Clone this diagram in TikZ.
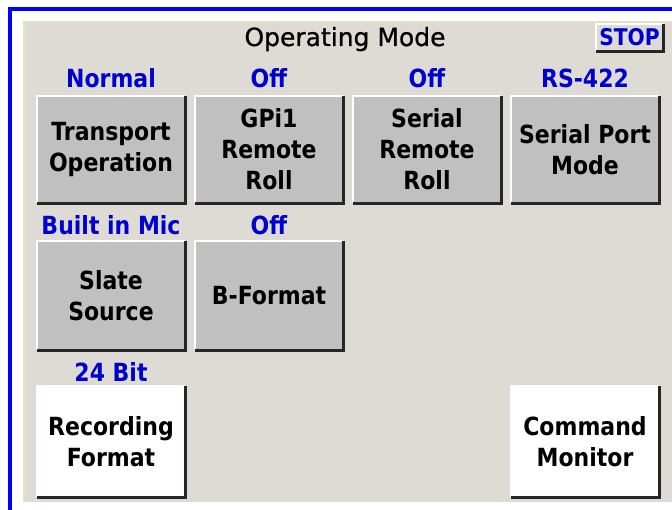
\documentclass[tikz,border=0pt]{standalone}
\usepackage{fontspec}
\setmainfont{DejaVu Sans}[FakeStretch=0.88]
\newfontfamily\titlefont{DejaVu Sans}[FakeBold=0.8]
\definecolor{panelbg}{RGB}{222,219,212}
\definecolor{panelrim}{RGB}{232,230,184}
\definecolor{btngray}{RGB}{192,192,192}
\definecolor{lblblue}{RGB}{0,0,204}
\definecolor{frameblue}{RGB}{0,0,255}
\begin{document}
\begin{tikzpicture}[x=1pt,y=-1pt,
    btn/.style={fill=#1,minimum width=148pt,inner sep=0pt,align=center,
      font=\bfseries\fontsize{25}{31}\selectfont},
    btn/.default=btngray,
    lbl/.style={anchor=base,inner sep=0pt,text=lblblue,
      font=\bfseries\fontsize{25}{30}\selectfont},
    ltedge/.style={white,line width=1.5pt},
    dkedge/.style={black!85,line width=3pt}]
  \useasboundingbox (0,0) rectangle (672,510);
  \fill[white] (0,0) rectangle (672,510);
  % frame and panel
  \draw[frameblue,line width=4pt] (10,510) -- (10,9) -- (672,9);
  \fill[panelbg] (23,21) rectangle (672,502);
  \draw[panelrim,line width=1.5pt] (23.75,502) -- (23.75,21.75) -- (672,21.75);
  \node[anchor=base,inner sep=0pt,font=\titlefont\fontsize{25}{30}\selectfont]
    (title) at (345,46) {Operating Mode};
  \node[fill=panelbg,minimum width=67pt,minimum height=27pt,inner sep=0pt,
    text=lblblue,font=\bfseries\fontsize{23}{28}\selectfont] (stop) at (629.5,37.5) {STOP};
  % buttons
  \node[btn,minimum height=107pt] (transport) at (111,149.5) {Transport\\Operation};
  \node[btn,minimum height=107pt] (gpi)       at (269,149.5) {GPi1\\Remote\\Roll};
  \node[btn,minimum height=107pt] (serial)    at (427,149.5) {Serial\\Remote\\Roll};
  \node[btn,minimum height=107pt] (port)      at (585,149.5) {Serial Port\\Mode};
  \node[btn,minimum height=109pt] (slate)     at (111,295.5) {Slate\\Source};
  \node[btn,minimum height=109pt] (bformat)   at (269,295.5) {B-Format};
  \node[btn=white,minimum height=111pt] (recfmt) at (111,441.5) {Recording\\Format};
  \node[btn=white,minimum height=111pt] (cmdmon) at (585,441.5) {Command\\Monitor};
  \foreach \b in {stop,transport,gpi,serial,port,slate,bformat,recfmt,cmdmon}{
    \draw[ltedge] (\b.south west) -- (\b.north west) -- (\b.north east);
    \draw[dkedge] (\b.north east) -- (\b.south east) -- (\b.south west);
  }
  % values
  \node[lbl] (normal) at ([yshift=8pt]transport.north) {Normal};
  \node[lbl] (gpioff) at ([yshift=8pt]gpi.north) {Off};
  \node[lbl] (seroff) at ([yshift=8pt]serial.north) {Off};
  \node[lbl] (rs)     at ([yshift=8pt]port.north) {RS-422};
  \node[lbl] (mic)    at ([yshift=6pt]slate.north) {Built in Mic};
  \node[lbl] (bfoff)  at ([yshift=6pt]bformat.north) {Off};
  \node[lbl] (bits)   at ([yshift=4pt]recfmt.north) {24 Bit};
\end{tikzpicture}
\end{document}
